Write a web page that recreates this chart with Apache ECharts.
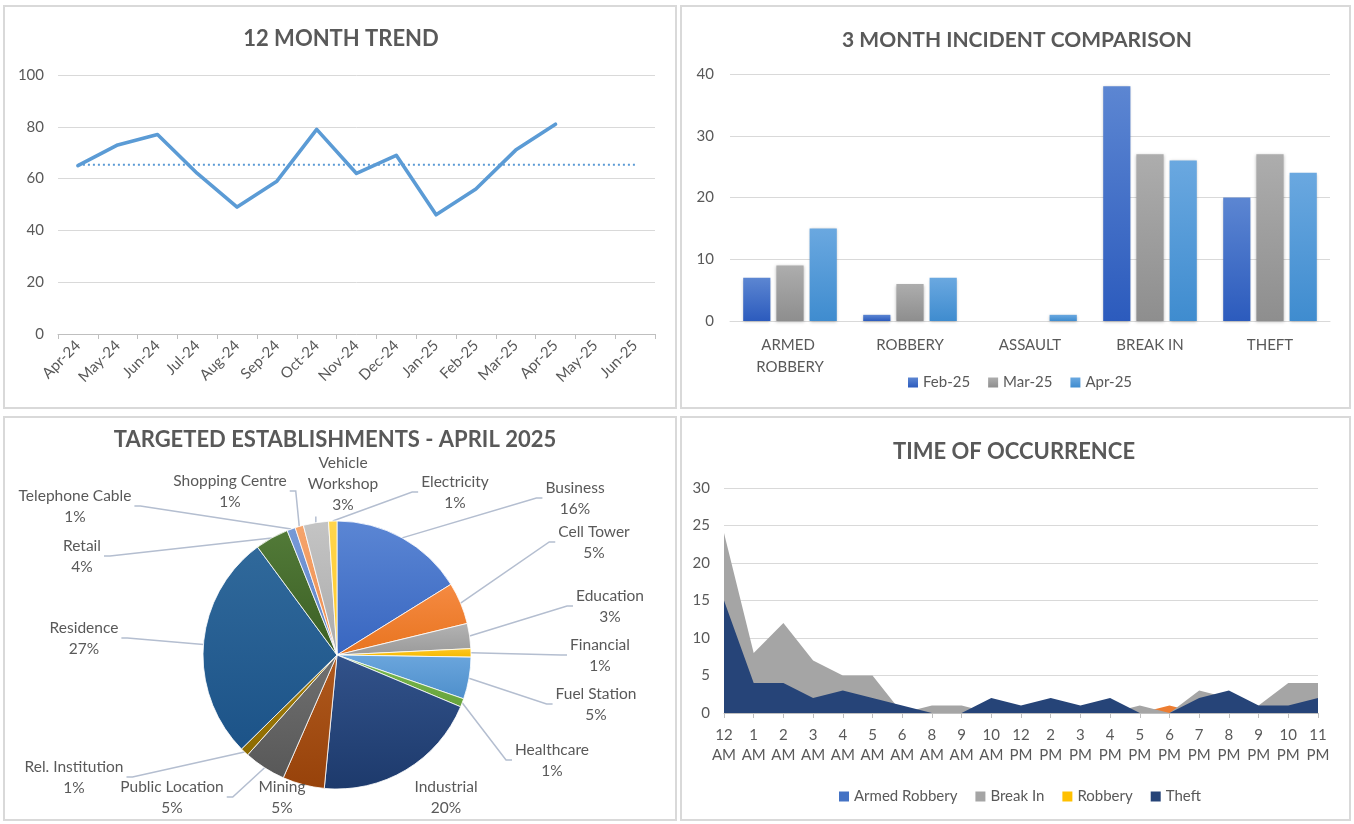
<!DOCTYPE html>
<html><head><meta charset="utf-8">
<script src="https://cdn.jsdelivr.net/npm/echarts@6/dist/echarts.min.js"></script>
<style>html,body{margin:0;padding:0;background:#fff}#c{width:1354px;height:824px}</style>
</head><body><div id="c"></div>
<script>
// ---- 12 month trend ----
const trendMonths = ['Apr-24','May-24','Jun-24','Jul-24','Aug-24','Sep-24','Oct-24','Nov-24','Dec-24','Jan-25','Feb-25','Mar-25','Apr-25','May-25','Jun-25'];
const trendValues = [65,73,77,62,49,59,79,62,69,46,56,71,81,null,null];
const trendAverage = [65.3,65.3,65.3,65.3,65.3,65.3,65.3,65.3,65.3,65.3,65.3,65.3,65.3,65.3,65.3];
const trendTicks = [0,20,40,60,80,100];

// ---- 3 month comparison ----
const incidentTypes = ['ARMED ROBBERY','ROBBERY','ASSAULT','BREAK IN','THEFT'];
const feb25 = [7,1,0,38,20];
const mar25 = [9,6,0,27,27];
const apr25 = [15,7,1,26,24];
const barTicks = [0,10,20,30,40];

// ---- targeted establishments ----
const estNames = ['Business','Cell Tower','Education','Financial','Fuel Station','Healthcare','Industrial','Mining','Public Location','Rel. Institution','Residence','Retail','Telephone Cable','Shopping Centre','Vehicle Workshop','Electricity'];
const estPercent = [16,5,3,1,5,1,20,5,5,1,27,4,1,1,3,1];

// ---- time of occurrence ----
const hours = ['12 AM','1 AM','2 AM','3 AM','4 AM','5 AM','6 AM','8 AM','9 AM','10 AM','12 PM','2 PM','3 PM','4 PM','5 PM','6 PM','7 PM','8 PM','9 PM','10 PM','11 PM'];
const armedRobberyByHour = [0,0,0,0,0,0,0,0,0,0,0,0,0,0,0,0,0,0,0,0,0];
const assaultByHour      = [0,0,0,0,0,0,0,0,0,0,0,0,0,0,0,1,0,0,0,0,0];
const breakInByHour      = [24,8,12,7,5,5,0,1,1,0,0,0,0,0,1,0,3,2,1,4,4];
const robberyByHour      = [0,0,0,0,0,0,0,0,0,0,0,0,0,0,0,0,0,0,0,0,0];
const theftByHour        = [15,4,4,2,3,2,1,0,0,2,1,2,1,2,0,0,2,3,1,1,2];
const timeTicks = [0,5,10,15,20,25,30];

// ---- layout / style (not data) ----
const FONT = 'Lato, "Open Sans", sans-serif';
const TXT = '#595959';
const GRID = '#D9D9D9';
// centre of each pie label block, in page pixels (label placement only)
const pieLabelAt = {
  'Business':[575,498], 'Cell Tower':[594,542], 'Education':[610,606], 'Financial':[600,655],
  'Fuel Station':[596,704], 'Healthcare':[552,760], 'Industrial':[446,797], 'Mining':[282,797],
  'Public Location':[172,797], 'Rel. Institution':[74,777], 'Residence':[84,638], 'Retail':[82,556],
  'Telephone Cable':[75,506], 'Shopping Centre':[230,491], 'Vehicle Workshop':[343,484], 'Electricity':[455,492]
};
const noLeaderLine = ['Industrial','Mining'];

function vgrad(top, bottom){
  return new echarts.graphic.LinearGradient(0,0,0,1,[{offset:0,color:top},{offset:1,color:bottom}]);
}
const pieColors = [
  ['#5B86D4','#3866C0'], ['#F58A42','#E8741F'], ['#B3B3B3','#9A9A9A'], ['#FFC824','#F5B800'],
  ['#6BA6DD','#4E8FCB'], ['#7DBA52','#66A33B'], ['#32528A','#1D3A6C'], ['#B05A1E','#97420A'],
  ['#707070','#585858'], ['#A88312','#8C6A00'], ['#30699B','#1C5388'], ['#527A38','#3B5F24'],
  ['#7799D6','#5E84C9'], ['#F5A46C','#EE8D4E'], ['#C4C4C4','#ABABAB'], ['#FFD54D','#FFC929']
];

const chart = echarts.init(document.getElementById('c'), null, {renderer:'canvas'});

const axisLabelStyle = {color: TXT, fontSize: 15, fontFamily: FONT};
const titleStyle = {color: TXT, fontSize: 22, fontWeight: 'bold', fontFamily: FONT};
const legendText = {color:TXT, fontSize:15, fontFamily:FONT};

function pieLabelLayout(p){
  const name = estNames[p.dataIndex];
  const pos = pieLabelAt[name];
  if (!pos) return {};
  const w = p.labelRect.width, h = p.labelRect.height;
  const left = pos[0] - w/2, right = pos[0] + w/2;
  const res = {x: pos[0], y: pos[1], align:'center', verticalAlign:'middle'};
  const pts = p.labelLinePoints;
  if (pts && pts.length) {
    const edge = pts[0];
    let end, mid;
    if (edge[0] < left - 2) { end = [left - 3, pos[1]]; mid = [end[0] - 6, pos[1]]; }
    else if (edge[0] > right + 2) { end = [right + 3, pos[1]]; mid = [end[0] + 6, pos[1]]; }
    else if (pos[1] > edge[1]) { end = [edge[0], pos[1] - h/2 - 1]; mid = end; }
    else { end = [edge[0], pos[1] + h/2 + 1]; mid = end; }
    res.labelLinePoints = [edge, mid, end];
  }
  return res;
}

const option = {
  backgroundColor: '#fff',
  animation: false,
  textStyle: {fontFamily: FONT},
  graphic: [
    {type:'rect', shape:{x:4,y:6,width:672,height:402}, style:{fill:null, stroke:GRID, lineWidth:2}, z:-1},
    {type:'rect', shape:{x:681,y:6,width:669,height:402}, style:{fill:null, stroke:GRID, lineWidth:2}, z:-1},
    {type:'rect', shape:{x:4,y:417,width:672,height:403}, style:{fill:null, stroke:GRID, lineWidth:2}, z:-1},
    {type:'rect', shape:{x:681,y:417,width:669,height:403}, style:{fill:null, stroke:GRID, lineWidth:2}, z:-1}
  ],
  title: [
    {text:'12 MONTH TREND', left:336, top:23, textAlign:'center', textStyle:titleStyle},
    {text:'3 MONTH INCIDENT COMPARISON', left:1012, top:25, textAlign:'center', textStyle:Object.assign({}, titleStyle, {fontSize:21})},
    {text:'TARGETED ESTABLISHMENTS - APRIL 2025', left:330, top:424, textAlign:'center', textStyle:titleStyle},
    {text:'TIME OF OCCURRENCE', left:1009, top:436, textAlign:'center', textStyle:titleStyle}
  ],
  legend: [
    {data:['Feb-25','Mar-25','Apr-25'], left:903, top:370, itemWidth:10, itemHeight:10, itemGap:18, icon:'rect',
     textStyle:legendText},
    {data:['Armed Robbery','Break In','Robbery','Theft'], left:834, top:784, itemWidth:10, itemHeight:10, itemGap:18, icon:'rect',
     textStyle:legendText}
  ],
  grid: [
    {left:58, top:75, width:597, height:259},
    {left:730, top:74, width:600, height:247},
    {left:724, top:488, width:594, height:225}
  ],
  xAxis: [
    {type:'category', gridIndex:0, data:trendMonths, boundaryGap:true,
     axisLine:{lineStyle:{color:'#BFBFBF'}}, axisTick:{show:true, length:5, lineStyle:{color:'#BFBFBF'}},
     axisLabel:Object.assign({rotate:45, margin:9, interval:0}, axisLabelStyle)},
    {type:'category', gridIndex:1, data:incidentTypes, boundaryGap:true,
     axisLine:{lineStyle:{color:'#D9D9D9', width:1}}, axisTick:{show:false},
     axisLabel:Object.assign({interval:0, margin:13, width:100, overflow:'break', lineHeight:22}, axisLabelStyle)},
    {type:'category', gridIndex:2, data:hours, boundaryGap:false,
     axisLine:{lineStyle:{color:'#BFBFBF'}}, axisTick:{show:true, length:5, lineStyle:{color:'#BFBFBF'}},
     axisLabel:Object.assign({interval:0, margin:12, lineHeight:20, formatter:v=>v.replace(' ','\n')}, axisLabelStyle)}
  ],
  yAxis: [
    {type:'value', gridIndex:0, min:trendTicks[0], max:trendTicks[trendTicks.length-1], interval:20,
     axisLine:{show:false}, axisTick:{show:false}, splitLine:{lineStyle:{color:GRID}},
     axisLabel:Object.assign({margin:14}, axisLabelStyle)},
    {type:'value', gridIndex:1, min:barTicks[0], max:barTicks[barTicks.length-1], interval:10,
     axisLine:{show:false}, axisTick:{show:false}, splitLine:{lineStyle:{color:GRID}},
     axisLabel:Object.assign({margin:16}, axisLabelStyle)},
    {type:'value', gridIndex:2, min:timeTicks[0], max:timeTicks[timeTicks.length-1], interval:5,
     axisLine:{show:false}, axisTick:{show:false}, splitLine:{lineStyle:{color:GRID}},
     axisLabel:Object.assign({margin:14}, axisLabelStyle)}
  ],
  series: [
    {name:'Trend', type:'line', xAxisIndex:0, yAxisIndex:0, data:trendValues, showSymbol:false,
     lineStyle:{color:'#5B9BD5', width:3.6, cap:'round', join:'round'}, itemStyle:{color:'#5B9BD5'}, z:3},
    {name:'Average', type:'line', xAxisIndex:0, yAxisIndex:0, data:trendAverage, showSymbol:false,
     lineStyle:{color:'#5B9BD5', width:2, type:[2,3]}, itemStyle:{color:'#5B9BD5'}, z:2},

    {name:'Feb-25', type:'bar', xAxisIndex:1, yAxisIndex:1, data:feb25, barGap:'22%', barCategoryGap:'22%',
     itemStyle:{color:vgrad('#5C86D2','#2C5BBD'), shadowColor:'rgba(0,0,0,0.25)', shadowBlur:3, shadowOffsetY:1}},
    {name:'Mar-25', type:'bar', xAxisIndex:1, yAxisIndex:1, data:mar25, barGap:'22%', barCategoryGap:'22%',
     itemStyle:{color:vgrad('#ADADAD','#8E8E8E'), shadowColor:'rgba(0,0,0,0.25)', shadowBlur:3, shadowOffsetY:1}},
    {name:'Apr-25', type:'bar', xAxisIndex:1, yAxisIndex:1, data:apr25, barGap:'22%', barCategoryGap:'22%',
     itemStyle:{color:vgrad('#6AA8E0','#3F8CCF'), shadowColor:'rgba(0,0,0,0.25)', shadowBlur:3, shadowOffsetY:1}},

    {name:'Establishments', type:'pie', center:[337,655], radius:134, startAngle:90, clockwise:true,
     avoidLabelOverlap:false, minShowLabelAngle:0,
     data: estNames.map((n,i)=>({name:n, value:estPercent[i],
       itemStyle:{color:vgrad(pieColors[i][0], pieColors[i][1])},
       labelLine:{show: noLeaderLine.indexOf(n) < 0}})),
     itemStyle:{borderColor:'#fff', borderWidth:0.8},
     label:{show:true, formatter:p=>p.name.replace('Vehicle ','Vehicle\n')+'\n'+p.value+'%', color:TXT, fontSize:15.5, fontFamily:FONT, lineHeight:21, align:'center'},
     labelLine:{show:true, length:18, length2:30, lineStyle:{color:'#B4BED0', width:1.5}},
     labelLayout: pieLabelLayout},

    {name:'Armed Robbery', type:'line', xAxisIndex:2, yAxisIndex:2, data:armedRobberyByHour, showSymbol:false,
     lineStyle:{width:0}, areaStyle:{color:'#4472C4', opacity:1}, itemStyle:{color:'#4472C4'}},
    {name:'Assault', type:'line', xAxisIndex:2, yAxisIndex:2, data:assaultByHour, showSymbol:false,
     lineStyle:{width:0}, areaStyle:{color:'#ED7D31', opacity:1}, itemStyle:{color:'#ED7D31'}},
    {name:'Break In', type:'line', xAxisIndex:2, yAxisIndex:2, data:breakInByHour, showSymbol:false,
     lineStyle:{width:0}, areaStyle:{color:'#A5A5A5', opacity:1}, itemStyle:{color:'#A5A5A5'}},
    {name:'Robbery', type:'line', xAxisIndex:2, yAxisIndex:2, data:robberyByHour, showSymbol:false,
     lineStyle:{width:0}, areaStyle:{color:'#FFC000', opacity:1}, itemStyle:{color:'#FFC000'}},
    {name:'Theft', type:'line', xAxisIndex:2, yAxisIndex:2, data:theftByHour, showSymbol:false,
     lineStyle:{width:0}, areaStyle:{color:'#264478', opacity:1}, itemStyle:{color:'#264478'}}
  ]
};
chart.setOption(option);
</script></body></html>
